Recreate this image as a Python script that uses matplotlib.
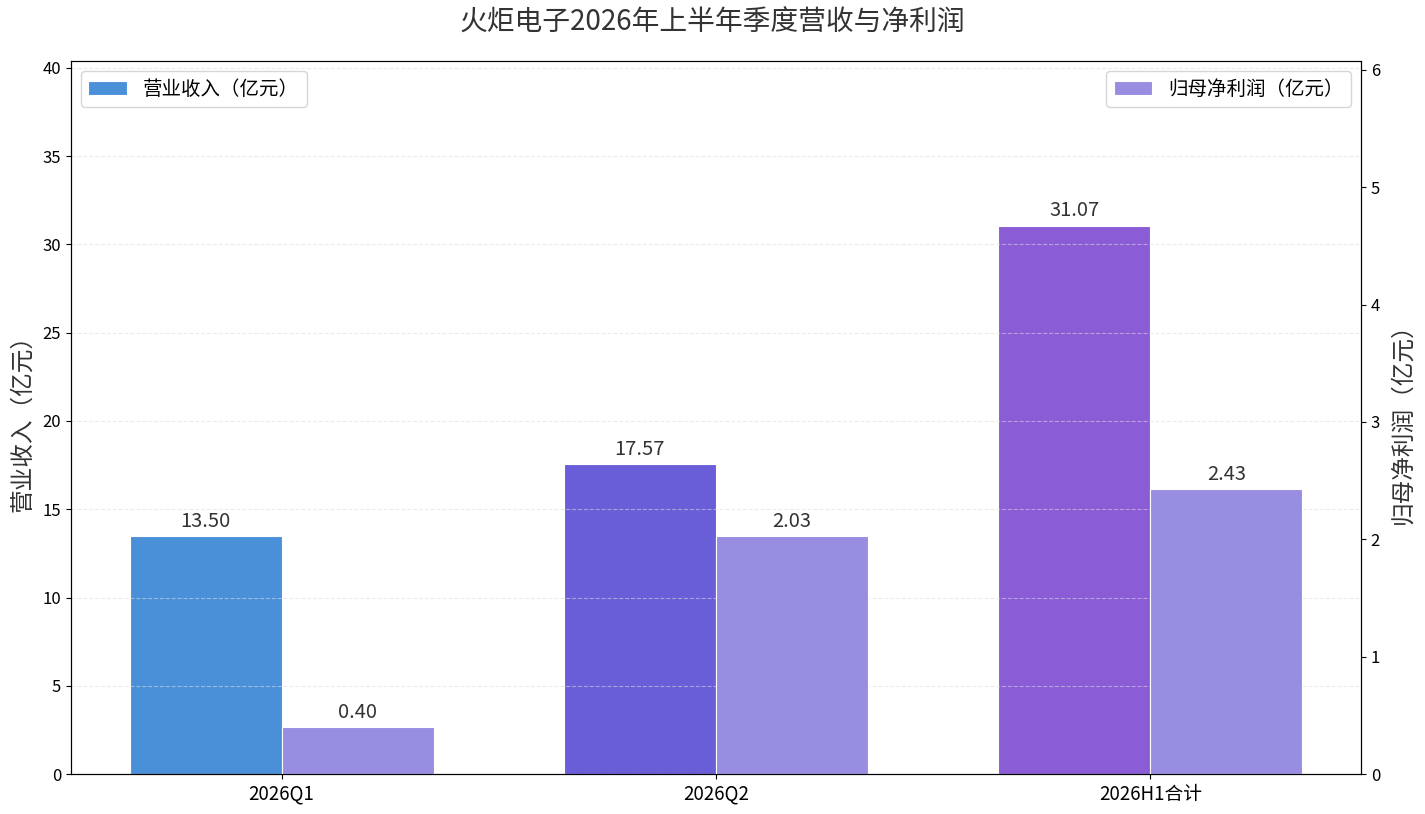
import matplotlib
matplotlib.use("Agg")
import matplotlib.pyplot as plt
import numpy as np

plt.rcParams["font.family"] = ["Noto Sans CJK SC", "DejaVu Sans"]
plt.rcParams["axes.unicode_minus"] = False

categories = ["2026Q1", "2026Q2", "2026H1合计"]
revenue = [13.50, 17.57, 31.07]
profit = [0.40, 2.03, 2.43]
revenue_colors = ["#4A90D9", "#6A5ED8", "#8A5CD6"]
profit_color = "#978DE1"

fig = plt.figure(figsize=(14.25, 8.14), dpi=100)
ax1 = fig.add_axes([0.0498, 0.0491, 0.9053, 0.8759])
ax2 = ax1.twinx()

x = np.arange(len(categories))
width = 0.35

bars1 = ax1.bar(x - width / 2, revenue, width, color=revenue_colors,
                edgecolor="white", linewidth=0.8, label="营业收入（亿元）")
bars2 = ax2.bar(x + width / 2, profit, width, color=profit_color,
                edgecolor="white", linewidth=0.8, label="归母净利润（亿元）")

ax1.set_ylim(0, max(revenue) * 1.3)
ax2.set_ylim(0, max(profit) * 2.5)

for b, v in zip(bars1, revenue):
    ax1.annotate(f"{v:.2f}", (b.get_x() + b.get_width() / 2, b.get_height()),
                 xytext=(0, 3), textcoords="offset points", ha="center",
                 va="bottom", fontsize=14.5, color="#333333")
for b, v in zip(bars2, profit):
    ax2.annotate(f"{v:.2f}", (b.get_x() + b.get_width() / 2, b.get_height()),
                 xytext=(0, 3), textcoords="offset points", ha="center",
                 va="bottom", fontsize=14.5, color="#333333")

ax1.set_xticks(x)
ax1.set_xticklabels(categories, fontsize=13.5)
ax1.tick_params(axis="y", labelsize=12)
ax2.tick_params(axis="y", labelsize=12)
ax1.set_ylabel("营业收入（亿元）", fontsize=17, color="#333333", labelpad=6)
ax2.set_ylabel("归母净利润（亿元）", fontsize=17, color="#333333", labelpad=8)
ax1.grid(axis="y", linestyle="--", color="#dddddd", alpha=0.55)

ax1.legend(loc="upper left", fontsize=14)
ax2.legend(loc="upper right", fontsize=14)

fig.suptitle("火炬电子2026年上半年季度营收与净利润", fontsize=20,
             color="#333333", y=0.99)

fig.savefig("out.png", dpi=100)
